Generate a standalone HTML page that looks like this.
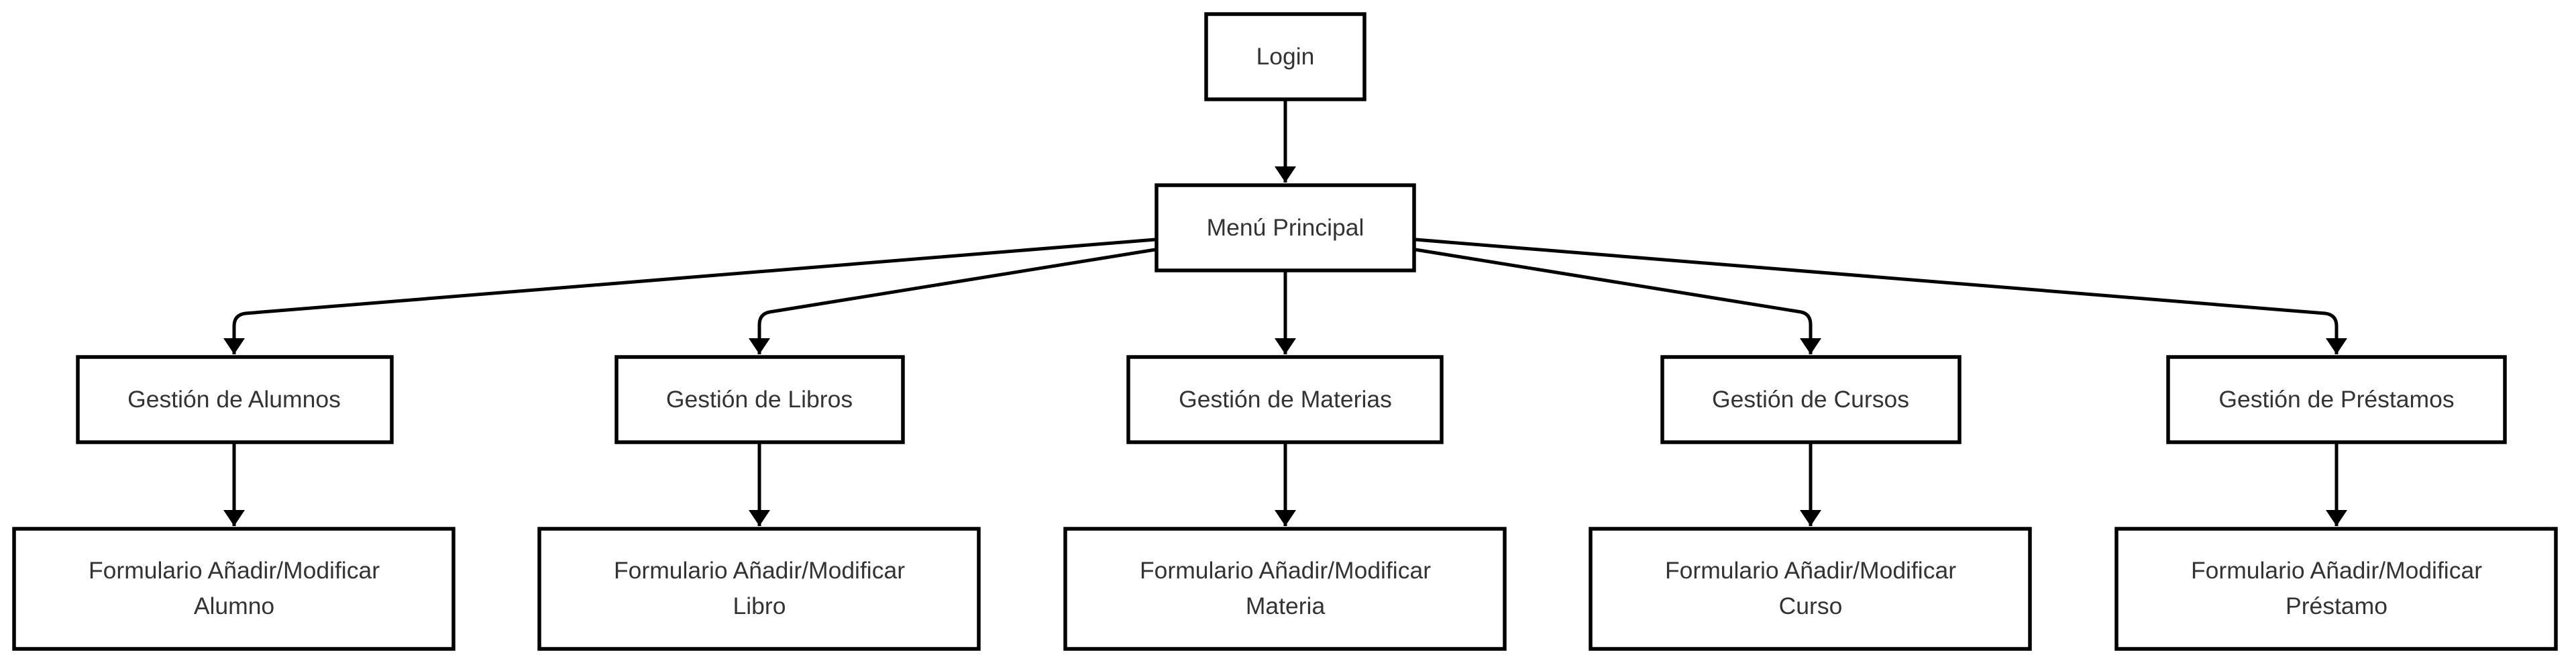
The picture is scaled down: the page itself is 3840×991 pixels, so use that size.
<!DOCTYPE html>
<html><head><meta charset="utf-8"><style>
html,body{margin:0;padding:0;background:#fff;width:3840px;height:991px;overflow:hidden}
text{font-family:"Liberation Sans",Arial,sans-serif;font-size:35.5px;fill:#333;text-anchor:middle}
</style></head><body>
<svg width="3840" height="991" viewBox="0 0 3840 991" xmlns="http://www.w3.org/2000/svg">
<defs><marker id="a" markerWidth="24" markerHeight="32" refX="24" refY="16" orient="auto" markerUnits="userSpaceOnUse"><path d="M0,0 L24,16 L0,32 Z" fill="#000"/></marker></defs>
<g fill="#fff" stroke="#000" stroke-width="5.5">
<rect x="1798" y="21" width="236" height="127"/>
<rect x="1724" y="276" width="384" height="127"/>
<rect x="116" y="532" width="468" height="127"/>
<rect x="919" y="532" width="427" height="127"/>
<rect x="1682" y="532" width="467" height="127"/>
<rect x="2478" y="532" width="443" height="127"/>
<rect x="3232" y="532" width="502" height="127"/>
<rect x="21" y="788" width="655" height="179"/>
<rect x="804" y="788" width="655" height="179"/>
<rect x="1588" y="788" width="655" height="179"/>
<rect x="2371" y="788" width="655" height="179"/>
<rect x="3155" y="788" width="655" height="179"/>
</g>
<g fill="none" stroke="#000" stroke-width="5" marker-end="url(#a)" stroke-linejoin="round">
<path d="M1916,148 V272"/>
<path d="M1722,357 L366,467 Q349,469 349,486 V528"/>
<path d="M1722,372 L1147,465 Q1132,468 1132,484 V528"/>
<path d="M1916,403 V528"/>
<path d="M2110,372 L2685,465 Q2699,468 2699,484 V528"/>
<path d="M2110,357 L3466,467 Q3483,469 3483,486 V528"/>
<path d="M349,659 V784"/>
<path d="M1132,659 V784"/>
<path d="M1916,659 V784"/>
<path d="M2699,659 V784"/>
<path d="M3483,659 V784"/>
</g>
<text x="1916" y="96">Login</text>
<text x="1916" y="351">Menú Principal</text>
<text x="349" y="607">Gestión de Alumnos</text>
<text x="1132" y="607">Gestión de Libros</text>
<text x="1916" y="607">Gestión de Materias</text>
<text x="2699" y="607">Gestión de Cursos</text>
<text x="3483" y="607">Gestión de Préstamos</text>
<text x="349" y="862">Formulario Añadir/Modificar</text><text x="349" y="915">Alumno</text>
<text x="1132" y="862">Formulario Añadir/Modificar</text><text x="1132" y="915">Libro</text>
<text x="1916" y="862">Formulario Añadir/Modificar</text><text x="1916" y="915">Materia</text>
<text x="2699" y="862">Formulario Añadir/Modificar</text><text x="2699" y="915">Curso</text>
<text x="3483" y="862">Formulario Añadir/Modificar</text><text x="3483" y="915">Préstamo</text>
</svg>
</body></html>
